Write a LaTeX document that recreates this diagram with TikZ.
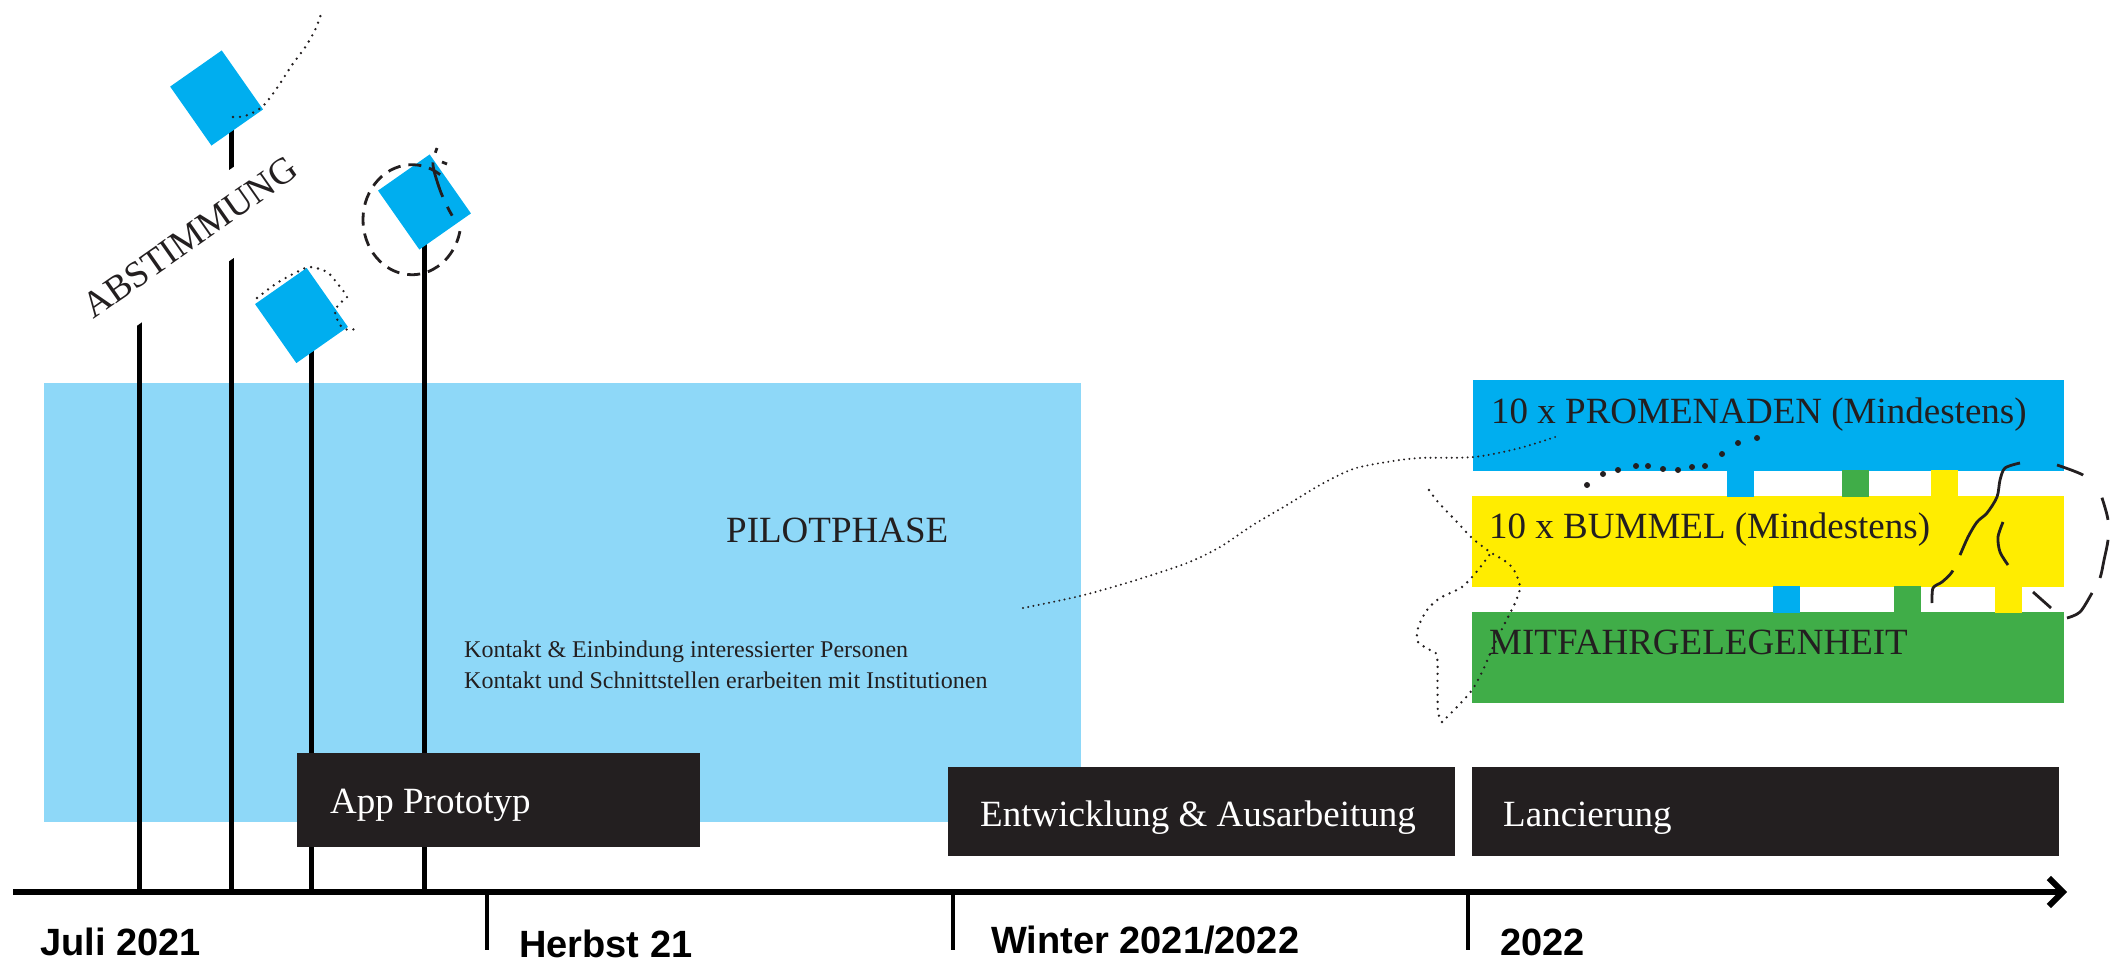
\documentclass[tikz,border=0pt]{standalone}
\usepackage{fontspec}
\setmainfont{Liberation Serif}
\newfontfamily\datefont{Liberation Sans}
\usepackage{tikz}
\usetikzlibrary{arrows.meta}
\definecolor{pilotblue}{HTML}{8ED8F8}
\definecolor{cyanblue}{HTML}{00AEEF}
\definecolor{signyellow}{HTML}{FFED00}
\definecolor{leafgreen}{HTML}{40AD48}
\definecolor{ink}{HTML}{231F20}

\begin{document}
\begin{tikzpicture}[x=1pt,y=-1pt,
    txt/.style={inner sep=0pt,text=ink,font=\fontsize{37}{44}\selectfont},
    note/.style={inner sep=0pt,text=ink,font=\fontsize{24}{31}\selectfont},
    boxtxt/.style={inner sep=0pt,text=white,font=\fontsize{37}{44}\selectfont},
    datelbl/.style={inner sep=0pt,text=black,font=\datefont\bfseries\fontsize{38}{44}\selectfont},
    pole/.style={line width=5pt},
    tickline/.style={line width=3.5pt},
    sq/.style={fill=cyanblue,rotate=35,minimum width=63pt,minimum height=72pt,inner sep=0pt},
    dots/.style={ink,line width=2.6pt,line cap=round,dash pattern=on 0pt off 7pt},
    sketch/.style={ink,line width=2.8pt}]
  \useasboundingbox (0,0) rectangle (2114,963);

  \fill[pilotblue] (44,383) rectangle (1081,822);
  \node[txt,anchor=base west] (pilot) at (726,542) {PILOTPHASE};
  \node[note,anchor=base west] (note1) at (464,657) {Kontakt \& Einbindung interessierter Personen};
  \node[note,anchor=base west] (note2) at (464,688) {Kontakt und Schnittstellen erarbeiten mit Institutionen};

  \draw[pole] (139,892) -- (139,300);
  \draw[pole] (231,892) -- (231,115);
  \draw[pole] (311,892) -- (311,330);
  \draw[pole] (424,892) -- (424,215);

  \node[txt,rotate=35,fill=white,inner xsep=8pt,inner ysep=20pt,text depth=10pt,anchor=base] (vote) at (197,247) {ABSTIMMUNG};

  \node[sq] (sqA) at (216.6,98) {};
  \node[sq] (sqB) at (301.5,315.5) {};
  \node[sq] (sqC) at (424.5,202) {};

  \fill[ink] (297,753) rectangle (700,847);
  \fill[ink] (948,767) rectangle (1455,856);
  \fill[ink] (1472,767) rectangle (2059,856);
  \node[boxtxt,anchor=base west] (app) at (330,813) {App Prototyp};
  \node[boxtxt,anchor=base west] (dev) at (980,826) {Entwicklung \& Ausarbeitung};
  \node[boxtxt,anchor=base west] (launch) at (1503,826) {Lancierung};

  \coordinate (t0) at (13,892);
  \coordinate (t1) at (2067,892);
  \draw[line width=6pt,-{Straight Barb[length=14pt,width=28pt]}] (t0) -- (t1);
  \foreach \x in {487,953,1468}
    \draw[tickline] (\x,892) -- (\x,950);
  \node[datelbl,anchor=base west] (d1) at (40,955) {Juli 2021};
  \node[datelbl,anchor=base west] (d2) at (519,957) {Herbst 21};
  \node[datelbl,anchor=base west] (d3) at (991,953) {Winter 2021/2022};
  \node[datelbl,anchor=base west] (d4) at (1500,955) {2022};

  \fill[cyanblue] (1473,380) rectangle (2064,471);
  \fill[signyellow] (1472,496) rectangle (2064,587);
  \fill[leafgreen] (1472,612) rectangle (2064,703);
  \foreach \x/\c in {1727/cyanblue,1842/leafgreen,1931/signyellow}
    \fill[\c] (\x,470) rectangle ++(27,27);
  \foreach \x/\c in {1773/cyanblue,1894/leafgreen,1995/signyellow}
    \fill[\c] (\x,586) rectangle ++(27,27);
  \node[txt,anchor=base west] (prom) at (1491,423) {10 x PROMENADEN (Mindestens)};
  \node[txt,anchor=base west] (bum) at (1489,538) {10 x BUMMEL (Mindestens)};
  \node[txt,anchor=base west] (ride) at (1489,654) {MITFAHRGELEGENHEIT};

  \draw[dots] plot[smooth] coordinates {(233,117) (245,116) (262,107) (277,88) (292,65) (306,46) (316,28) (322,11)};
  \draw[dots] plot[smooth] coordinates {(257,298) (277,283) (297,272) (310,267) (327,272) (337,283) (347,297) (340,303) (335,312) (340,325) (348,330) (355,329)};
  \draw[sketch,dash pattern=on 13pt off 8pt] (412,219.7) ++(-55:49 and 55) arc[start angle=-55,end angle=-348,x radius=49,y radius=55];
  \draw[sketch,dash pattern=on 5pt off 10pt on 36pt off 11pt on 10pt] plot[smooth] coordinates {(437,148) (433,165) (440,190) (448,208) (453,217)};
  \draw[sketch] (442,162) -- (447,164);

  \draw[ink,line width=2.2pt,line cap=round,dash pattern=on 0pt off 5.3pt] plot[smooth] coordinates {(1023,608) (1080,596) (1133,581) (1187,563) (1220,547) (1253,525) (1287,505) (1320,485) (1353,469) (1387,462) (1420,458) (1474,457) (1520,448) (1558,436)};
  \foreach \p in {(1587,485),(1603,474),(1618,470),(1636,466),(1648,466),(1663,469),(1678,470),(1692,467),(1705,466),(1722,454),(1738,443),(1757,438)}
    \fill[ink] \p circle (3pt);
  \draw[dots] plot[smooth] coordinates {(1429,490) (1438,502) (1457,522) (1472,538) (1490,552) (1505,561) (1514,570) (1520,587) (1515,603) (1505,623) (1493,647) (1483,670) (1472,690) (1457,707) (1442,722)};
  \draw[dots] plot[smooth,tension=0.5] coordinates {(1442,722) (1438,712) (1437.5,687) (1437,656) (1430,650) (1418,642) (1418,628) (1427,610) (1440,598) (1462,587) (1478,570) (1490,554)};

  \draw[sketch,dash pattern=on 116pt off 17pt on 80pt] plot[smooth] coordinates {(2020,463) (2005,468) (2000,480) (1997,497) (1987,513) (1977,522) (1968,537) (1960,555) (1952,572) (1942,582) (1933,588) (1932,603)};
  \draw[sketch] plot[smooth] coordinates {(2003,522) (1998,537) (2000,552) (2008,565)};
  \draw[sketch,dash pattern=on 28pt off 30pt on 23pt off 20pt on 39pt off 17pt on 45pt] plot[smooth] coordinates {(2057,465) (2083,475) (2097,488) (2102,498) (2108,520) (2108,540) (2104,560) (2100,578) (2092,593) (2080,612) (2067,618)};
  \draw[sketch] (2033,592) -- (2051,608);
\end{tikzpicture}
\end{document}
